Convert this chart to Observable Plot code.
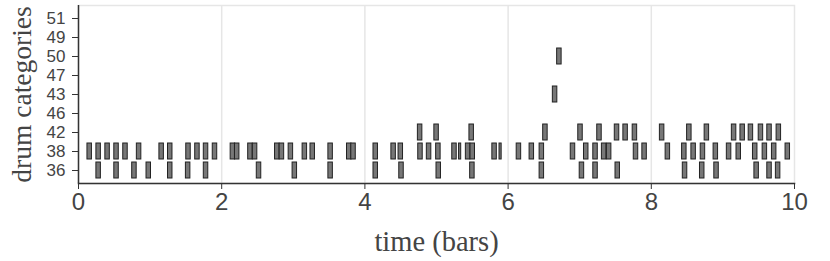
<!DOCTYPE html>
<html>
<head>
<meta charset="utf-8">
<script src="https://cdn.jsdelivr.net/npm/d3@7"></script>
<script src="https://cdn.jsdelivr.net/npm/@observablehq/plot@0.6"></script>
<style>
  html, body { margin: 0; padding: 0; background: #fff; }
</style>
</head>
<body>
<div id="chart"></div>
<script>
// drum categories, top to bottom
const categories = ["51", "49", "50", "47", "43", "46", "42", "38", "36"];
const xTicks = [0, 2, 4, 6, 8, 10];

// note onsets (in bars) per drum category
const onsets36 = [0.25, 0.5, 0.75, 0.95, 1.25, 1.5, 1.75, 2.49, 2.99, 3.49, 4.12, 4.48, 5.0, 5.47,
  6.44, 7.0, 7.19, 7.5, 8.44, 8.68, 8.88, 9.44, 9.62, 9.74];
const onsets38 = [0.125, 0.25, 0.375, 0.5, 0.625, 0.815, 1.13, 1.25, 1.505, 1.63, 1.75, 1.875,
  2.125, 2.185, 2.37, 2.435, 2.745, 2.81, 2.935, 3.13, 3.24, 3.49, 3.75, 3.81,
  4.12, 4.37, 4.47, 4.745, 4.865, 4.995, 5.22, 5.41, 5.475, 5.78,
  6.12, 6.3, 6.44, 6.875, 7.06, 7.19, 7.31, 7.38, 7.755, 7.875,
  8.2, 8.43, 8.56, 8.69, 8.87, 9.055, 9.19, 9.42, 9.555, 9.685, 9.875];
const onsets38Short = [5.315, 5.88];
const onsets42 = [4.74, 4.97, 5.46, 6.49, 6.98, 7.245, 7.49, 7.61, 7.74, 8.12, 8.5, 8.745,
  9.125, 9.245, 9.36, 9.5, 9.62, 9.75];
const onsets43 = [6.625];
const onsets50 = [6.685];

const noteLength = 0.0625;
const shortLength = 0.03;

const notes = [
  ...onsets36.map(t => ({pitch: "36", start: t, dur: noteLength})),
  ...onsets38.map(t => ({pitch: "38", start: t, dur: noteLength})),
  ...onsets38Short.map(t => ({pitch: "38", start: t, dur: shortLength})),
  ...onsets42.map(t => ({pitch: "42", start: t, dur: noteLength})),
  ...onsets43.map(t => ({pitch: "43", start: t, dur: noteLength})),
  ...onsets50.map(t => ({pitch: "50", start: t, dur: noteLength}))
];

const sans = "'Liberation Sans', Arial, Helvetica, sans-serif";
const serif = "'Liberation Serif', 'Times New Roman', serif";

const chart = Plot.plot({
  width: 830,
  height: 261,
  marginTop: 5,
  marginRight: 36,
  marginBottom: 78,
  marginLeft: 78,
  style: {background: "#fff", fontFamily: sans},
  x: {domain: [0, 10]},
  y: {domain: categories, paddingInner: 0.17, paddingOuter: 0.085},
  marks: [
    Plot.frame({stroke: "#e6e6e6", strokeWidth: 1.5}),
    Plot.gridX([2, 4, 6, 8], {stroke: "#e6e6e6", strokeOpacity: 1, strokeWidth: 1.5}),
    Plot.barX(notes, {
      x1: "start",
      x2: d => d.start + d.dur,
      y: "pitch",
      fill: "#777",
      stroke: "#222",
      strokeWidth: 1
    }),
    Plot.ruleX([0], {stroke: "#333", strokeWidth: 1.5}),
    Plot.frame({anchor: "bottom", stroke: "#333", strokeWidth: 1.5}),
    Plot.axisX({
      ticks: xTicks,
      tickSize: 6,
      tickPadding: 3,
      fontSize: 24,
      fontFamily: sans,
      color: "#444",
      stroke: "#333",
      label: null
    }),
    Plot.axisY({
      tickSize: 6,
      tickPadding: 7,
      fontSize: 17,
      fontFamily: sans,
      color: "#444",
      stroke: "#333",
      label: null
    }),
    Plot.text(["time (bars)"], {
      frameAnchor: "bottom",
      dy: 58,
      fontSize: 28.5,
      fontFamily: serif,
      fill: "#444",
      lineAnchor: "middle"
    }),
    Plot.text(["drum categories"], {
      frameAnchor: "left",
      dx: -56,
      rotate: -90,
      textAnchor: "middle",
      lineAnchor: "middle",
      fontSize: 27.5,
      fontFamily: serif,
      fill: "#444"
    })
  ]
});

document.getElementById("chart").appendChild(chart);
</script>
</body>
</html>
